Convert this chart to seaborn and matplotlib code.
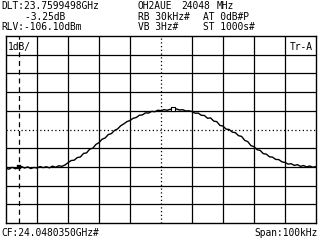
import numpy as np
import pandas as pd
import matplotlib
matplotlib.use("Agg")
import matplotlib.pyplot as plt
import seaborn as sns

# ---- data ----
freq_offset_khz = np.arange(-50, 51, 1)  # sweep points, span 100 kHz around CF
level_rel_db = [
    -7.08, -7.12, -7.02, -7.10, -7.05, -6.98, -7.06, -7.00, -7.09, -7.03,
    -7.06, -6.98, -7.04, -6.99, -7.05, -6.96, -7.02, -6.94, -6.97, -6.90,
    -6.78, -6.66, -6.64, -6.50, -6.47, -6.28, -6.25, -6.05, -6.00, -5.80,
    -5.70, -5.52, -5.45, -5.27, -5.22, -5.05, -4.97, -4.80, -4.70, -4.58,
    -4.52, -4.40, -4.36, -4.24, -4.22, -4.11, -4.12, -4.03, -4.05, -3.97,
    -3.99, -3.94, -3.97, -3.92, -3.95, -3.90, -3.96, -3.94, -4.01, -4.00,
    -4.04, -4.13, -4.12, -4.24, -4.25, -4.40, -4.38, -4.55, -4.58, -4.78,
    -4.82, -4.98, -5.00, -5.14, -5.17, -5.33, -5.37, -5.58, -5.65, -5.86,
    -5.92, -6.08, -6.12, -6.29, -6.32, -6.46, -6.48, -6.60, -6.61, -6.73,
    -6.76, -6.85, -6.83, -6.92, -6.88, -6.97, -6.93, -7.00, -6.95, -7.02, -6.98,
]
marker_freq_khz = [-45.7, 4.0]
marker_level_db = [-7.0, -3.93]

header_left = ["DLT:23.7599498GHz", "    -3.25dB", "RLV:-106.10dBm"]
header_title = ["OH2AUE", "24048", "MHz"]
header_mid = ["RB 30kHz#", "VB 3Hz#"]
header_right = ["AT 0dB#P", "ST 1000s#"]
footer_left = "CF:24.0480350GHz#"
footer_right = "Span:100kHz"
scale_label = "1dB/"
trace_label = "Tr-A"

# ---- figure ----
sns.set_style("white")
plt.rcParams["font.family"] = ["DejaVu Sans Mono"]
W, H = 320, 240
fig = plt.figure(figsize=(W / 100, H / 100), dpi=100)
fig.patch.set_facecolor("white")
left, right, top, bottom = 6, 316, 36, 223
ax = fig.add_axes([left / W, 1 - bottom / H, (right - left) / W, (bottom - top) / H])
ax.set_xlim(-50, 50)
ax.set_ylim(-10, 0)
ax.set_xticks([])
ax.set_yticks([])
for s in ax.spines.values():
    s.set_color("black")
    s.set_linewidth(1.0)

lw = 0.9
for xv in np.arange(-40, 50, 10):
    if xv == 0:
        ax.axvline(xv, color="black", lw=lw, ls=(0, (1, 2)), zorder=1)
    else:
        ax.axvline(xv, color="black", lw=lw, zorder=1)
for yv in np.arange(-9, 0, 1):
    if yv == -5:
        ax.axhline(yv, color="black", lw=lw, ls=(0, (1, 2)), zorder=1)
    else:
        ax.axhline(yv, color="black", lw=lw, zorder=1)

# marker reference dashed line
ax.axvline(marker_freq_khz[0], color="black", lw=lw, ls=(0, (4, 3)), zorder=1)

df = pd.DataFrame({"f": freq_offset_khz, "lvl": level_rel_db})
sns.lineplot(data=df, x="f", y="lvl", ax=ax, color="black", lw=1.0, zorder=3)

mk = pd.DataFrame({"f": marker_freq_khz, "lvl": marker_level_db})
sns.scatterplot(data=mk.iloc[[0]], x="f", y="lvl", ax=ax, marker="s", s=9,
                color="black", edgecolor="black", zorder=4)
sns.scatterplot(data=mk.iloc[[1]], x="f", y="lvl", ax=ax, marker="s", s=12,
                facecolor="white", edgecolor="black", linewidth=0.8, zorder=4)
ax.set_xlabel("")
ax.set_ylabel("")

fs = 6.9
def ftext(x, y, s, ha="left"):
    fig.text(x / W, 1 - y / H, s, ha=ha, va="center", fontsize=fs, color="black")

ys = [6, 16.5, 27.5]
for i in range(3):
    ftext(1.5, ys[i], header_left[i])
for xpos, word in zip([138, 181, 217], header_title):
    ftext(xpos, ys[0], word)
for i in range(2):
    ftext(138, ys[i + 1], header_mid[i])
    ftext(203, ys[i + 1], header_right[i])
ftext(1.5, 232.5, footer_left)
ftext(318, 232.5, footer_right, ha="right")

ax.text(0.006, 0.97, scale_label, transform=ax.transAxes, ha="left", va="top",
        fontsize=fs, color="black", zorder=5)
ax.text(0.99, 0.97, trace_label, transform=ax.transAxes, ha="right", va="top",
        fontsize=fs, color="black", zorder=5)

fig.savefig("out.png", dpi=100, facecolor="white")
